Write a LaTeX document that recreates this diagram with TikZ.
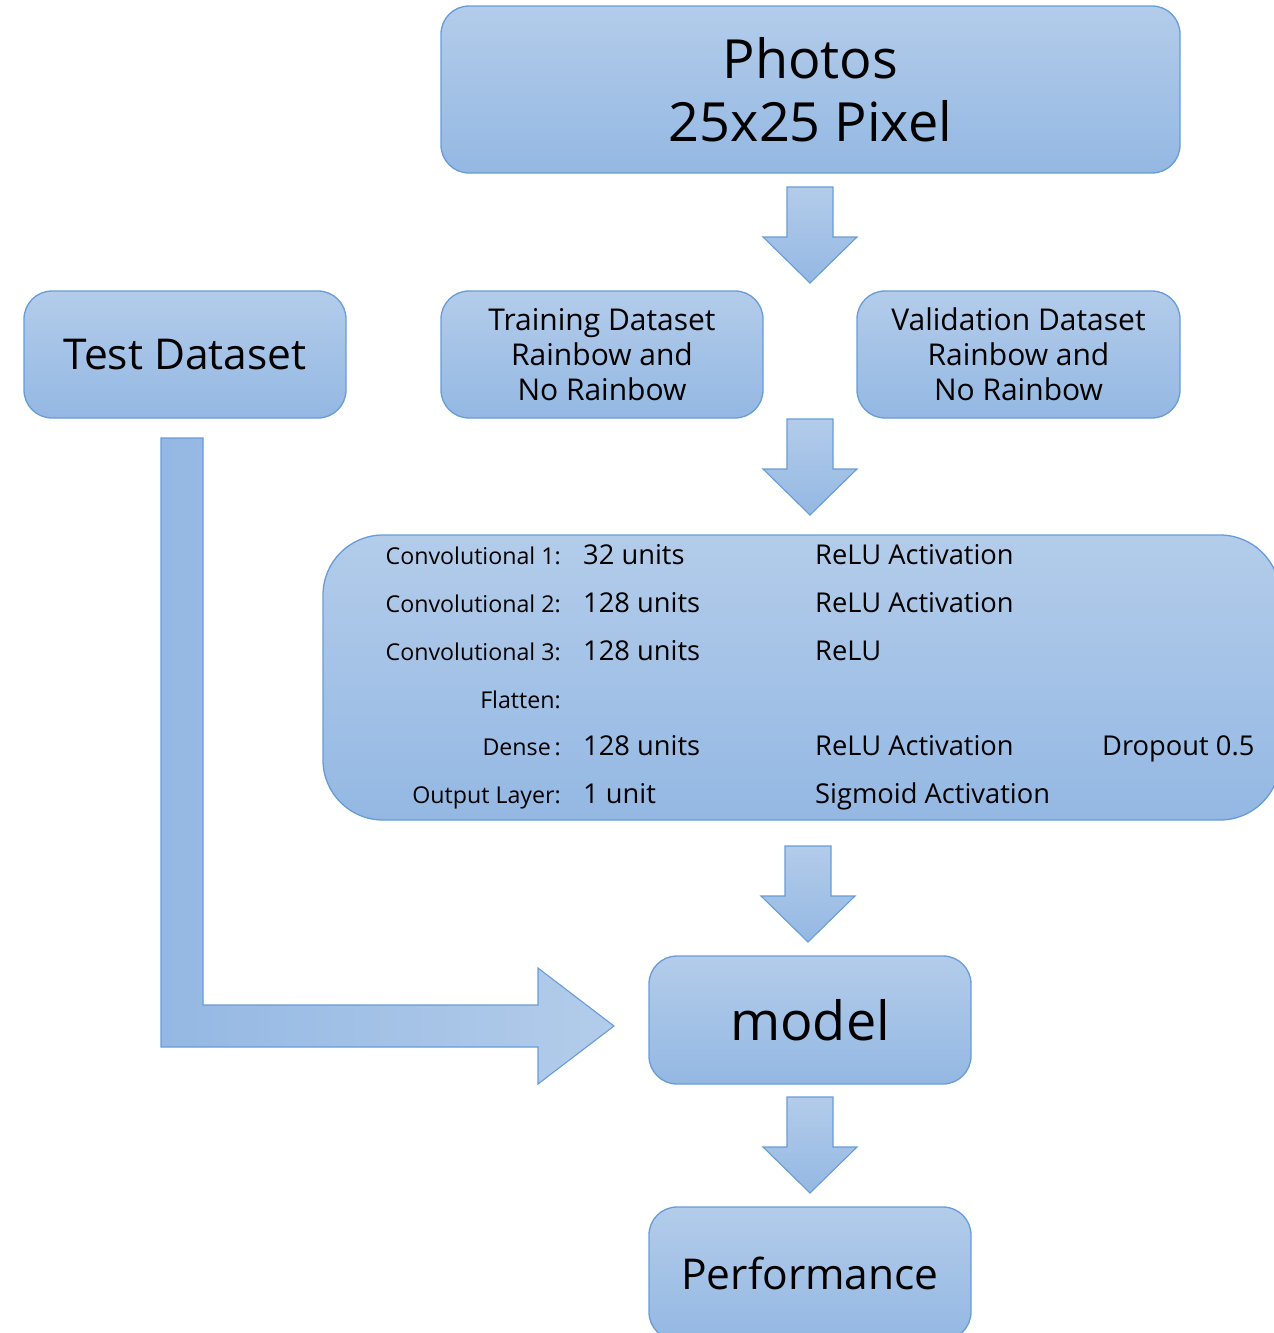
\documentclass[tikz,border=0pt]{standalone}
\usepackage{fontspec}
\setmainfont{Open Sans}
\definecolor{boxtop}{RGB}{179,204,234}
\definecolor{boxbot}{RGB}{148,184,227}
\definecolor{boxline}{RGB}{104,156,216}
\tikzset{
  box/.style={draw=boxline, line width=1.3pt, rounded corners=28pt,
    top color=boxtop, bottom color=boxbot, align=center, inner sep=0pt, text=black},
  blockarrow/.style={draw=boxline, line width=1.1pt, top color=boxtop, bottom color=boxbot},
  downblock/.pic={
    \path[blockarrow] (-23,0) -- (23,0) -- (23,50) -- (47,50) -- (0,96)
      -- (-47,50) -- (-23,50) -- cycle;
  },
  lbl/.style={anchor=base east, inner sep=0pt, font=\fontsize{23.2}{28}\selectfont},
  val/.style={anchor=base west, inner sep=0pt, font=\fontsize{27.3}{32}\selectfont},
}
\begin{document}
\begin{tikzpicture}[x=1pt,y=-1pt]
\useasboundingbox (0,0) rectangle (1274,1333);

% source images
\node[box, minimum width=739, minimum height=167,
      font=\fontsize{54}{63}\selectfont] (photos) at (810.5,89.5)
  {Photos\\25x25 Pixel};

% datasets
\node[box, minimum width=322, minimum height=127,
      font=\fontsize{42.5}{50}\selectfont] (test) at (185,354.5) {Test Dataset};
\node[box, minimum width=322, minimum height=127,
      font=\fontsize{30}{35}\selectfont] (train) at (602,354.5)
  {Training Dataset\\Rainbow and\\No Rainbow};
\node[box, minimum width=323, minimum height=127,
      font=\fontsize{30}{35}\selectfont] (valid) at (1018.5,354.5)
  {Validation Dataset\\Rainbow and\\No Rainbow};

% network layers
\node[box, rounded corners=60pt, minimum width=957, minimum height=285] (layers)
  at (801.5,677.5) {};
\node[lbl] (l1) at (561,564) {Convolutional 1:};
\node[lbl] (l2) at (561,612) {Convolutional 2:};
\node[lbl] (l3) at (561,660) {Convolutional 3:};
\node[lbl] (l4) at (561,708) {Flatten:};
\node[lbl] (l5) at (561,755) {Dense\,:};
\node[lbl] (l6) at (561,803) {Output Layer:};
\node[val] (u1) at (583,564) {32 units};
\node[val] (u2) at (583,612) {128 units};
\node[val] (u3) at (583,660) {128 units};
\node[val] (u5) at (583,755) {128 units};
\node[val] (u6) at (583,803) {1 unit};
\node[val] (a1) at (815,564) {ReLU Activation};
\node[val] (a2) at (815,612) {ReLU Activation};
\node[val] (a3) at (815,660) {ReLU};
\node[val] (a5) at (815,755) {ReLU Activation};
\node[val] (a6) at (815,803) {Sigmoid Activation};
\node[val] (d5) at (1102,755) {Dropout 0.5};

% model and result
\node[box, minimum width=322, minimum height=128,
      font=\fontsize{54}{60}\selectfont] (model) at (810,1020) {model};
\node[box, minimum width=322, minimum height=133,
      font=\fontsize{42.5}{50}\selectfont] (perf) at (810,1273.5) {Performance};

% block arrows between stages
\pic at (810,187) {downblock};
\pic at (810,419) {downblock};
\pic at (808,846) {downblock};
\pic at (810,1097) {downblock};

% test data feeding the model
\coordinate (lstart) at (161,438);
\coordinate (ltip) at (614,1026);
\path[draw=boxline, line width=1.1pt, left color=boxbot, right color=boxtop]
  (lstart) -- ++(42,0) -- (203,1005) -- (538,1005) -- (538,968) -- (ltip)
  -- (538,1084) -- (538,1047) -- (161,1047) -- cycle;
\end{tikzpicture}
\end{document}
